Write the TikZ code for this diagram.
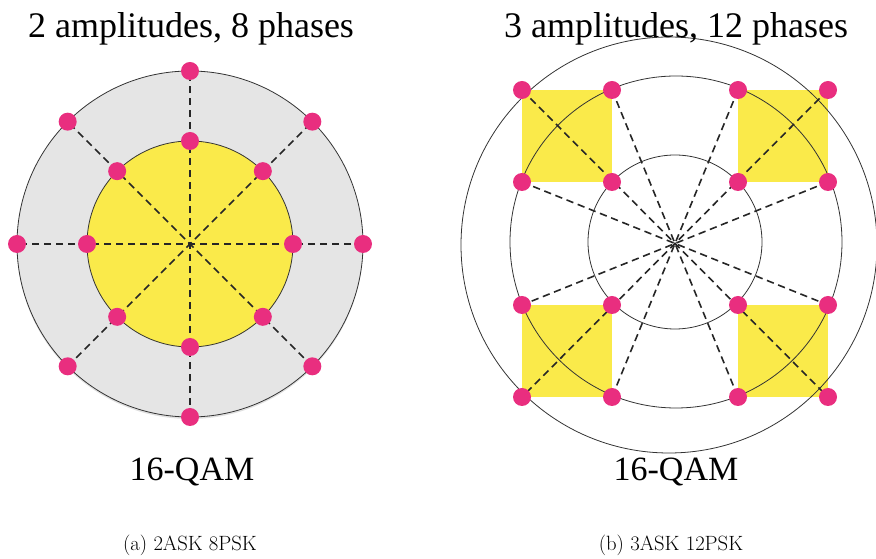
\documentclass[tikz,border=0pt]{standalone}
\usepackage{fontspec}
\usepackage{graphicx}
\newfontfamily\titlefont{Liberation Serif}
\usetikzlibrary{calc}
\definecolor{dotpink}{RGB}{233,46,127}
\definecolor{qyellow}{RGB}{250,234,74}
\definecolor{qgray}{RGB}{229,229,229}
\begin{document}
\begin{tikzpicture}[x=0.75pt,y=-0.75pt,
  ringline/.style={draw=black!80, line width=0.6pt},
  rayline/.style={draw=black!85, line width=1.2pt, dash pattern=on 5.5pt off 3.5pt},
  dotmark/.style={circle, fill=dotpink, inner sep=0pt, minimum size=13.5pt},
  titletext/.style={font=\titlefont\fontsize{27}{32}\selectfont, anchor=base, inner sep=0pt},
  qamtext/.style={font=\titlefont\fontsize{25.5}{30}\selectfont, anchor=base, inner sep=0pt},
  captext/.style={font=\fontsize{15.5}{19}\selectfont, anchor=base, inner sep=0pt}]
\useasboundingbox (0,0) rectangle (876,559);

% ---------- left: 2ASK 8PSK ----------
\coordinate (c1) at (190,244);
\fill[black!12] ($(c1)+(0,2)$) circle[radius=173];
\fill[qgray] (c1) circle[radius=173];
\draw[ringline] (c1) circle[radius=173];
\filldraw[fill=qyellow, ringline] (c1) circle[radius=103];
\foreach \a in {0,45,...,315} {
  \coordinate (o\a) at ($(c1)+(\a:173)$);
  \coordinate (i\a) at ($(c1)+(\a:103)$);
}
\foreach \a/\b in {0/180,45/225,90/270,135/315}
  \draw[rayline] (o\a) -- (o\b);
\foreach \a in {0,45,...,315} {
  \node[dotmark] (po\a) at (o\a) {};
  \node[dotmark] (pi\a) at (i\a) {};
}

% ---------- right: 3ASK 12PSK ----------
\coordinate (c2) at (675,243.5);
\foreach \r/\y in {1/90,2/182,3/305,4/397}
  \foreach \c/\x in {1/522,2/612,3/738,4/828}
    \coordinate (q\r\c) at (\x,\y);
\fill[qyellow] (q11) rectangle (q22);
\fill[qyellow] (q13) rectangle (q24);
\fill[qyellow] (q31) rectangle (q42);
\fill[qyellow] (q33) rectangle (q44);
\draw[ringline] (669,245) circle[radius=208];
\draw[ringline] (676,242) circle[radius=166];
\draw[ringline] (675,242) circle[radius=87];
\foreach \s/\e in {11/44,14/41,12/43,13/42,21/34,24/31}
  \draw[rayline] (q\s) -- (q\e);
\foreach \r in {1,2,3,4}
  \foreach \c in {1,2,3,4}
    \node[dotmark] (pq\r\c) at (q\r\c) {};

% ---------- texts ----------
\node[titletext] (t1) at (191,38) {2 amplitudes, 8 phases};
\node[titletext] (t2) at (676,38) {3 amplitudes, 12 phases};
\node[qamtext] (l1) at (192,481) {16-QAM};
\node[qamtext] (l2) at (676,481) {16-QAM};
\node[captext] (ca) at (190,551) {(a) 2ASK 8PSK};
\node[captext] (cb) at (671,551) {(b) 3ASK 12PSK};
\end{tikzpicture}
\end{document}
